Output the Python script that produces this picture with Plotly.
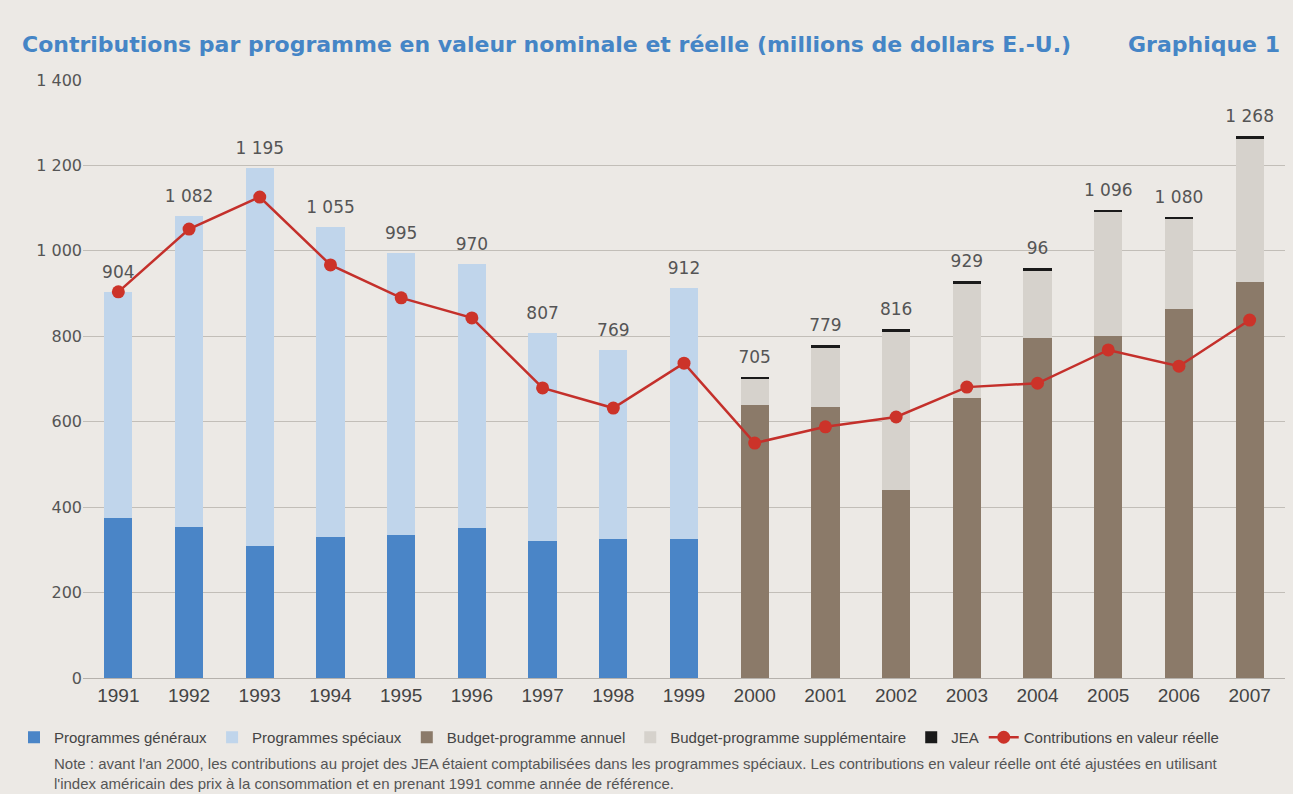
import plotly.graph_objects as go

years = [str(y) for y in range(1991, 2008)]
prog_generaux = [375, 354, 309, 330, 335, 351, 321, 325, 325] + [None] * 8
totals = [904, 1082, 1195, 1055, 995, 970, 807, 769, 912, 705, 779, 816, 929, 960, 1096, 1080, 1268]
total_labels = ["904", "1 082", "1 195", "1 055", "995", "970", "807", "769", "912",
                "705", "779", "816", "929", "96", "1 096", "1 080", "1 268"]
budget_annuel = [None] * 9 + [639, 635, 440, 656, 796, 800, 864, 927]
jea = [None] * 9 + [6, 6, 6, 6, 6, 6, 6, 6]
valeur_reelle = [904, 1051, 1126, 967, 890, 843, 679, 632, 737, 550, 588, 611, 681, 690, 768, 730, 838]

prog_speciaux = [totals[i] - prog_generaux[i] if prog_generaux[i] is not None else None for i in range(17)]
budget_supp = [totals[i] - budget_annuel[i] - jea[i] if budget_annuel[i] is not None else None for i in range(17)]

FONT = "Liberation Sans, Arial, sans-serif"
BG = "#ece9e5"

W, H = 1293, 794
l, r, t, b = 83, 8, 80, 116
pw, ph = W - l - r, H - t - b

fig = go.Figure()
bw = 0.4
fig.add_bar(x=years, y=prog_generaux, name="Programmes généraux", marker_color="#4a85c7", width=bw, marker_line_width=0)
fig.add_bar(x=years, y=prog_speciaux, name="Programmes spéciaux", marker_color="#c0d5eb", width=bw, marker_line_width=0)
fig.add_bar(x=years, y=budget_annuel, name="Budget-programme annuel", marker_color="#8b7a69", width=bw, marker_line_width=0)
fig.add_bar(x=years, y=budget_supp, name="Budget-programme supplémentaire", marker_color="#d6d2cc", width=bw, marker_line_width=0)
fig.add_bar(x=years, y=jea, name="JEA", marker_color="#1a1a1a", width=bw, marker_line_width=0)
fig.add_scatter(x=years, y=valeur_reelle, name="Contributions en valeur réelle", mode="lines+markers",
                line=dict(color="#c4302b", width=2.5), marker=dict(color="#cc3329", size=13))
fig.add_scatter(x=years, y=totals, text=total_labels, mode="markers+text", textposition="top center",
                marker=dict(size=14, color="rgba(0,0,0,0)"),
                textfont=dict(family="DejaVu Sans, sans-serif", size=17, color="#555"), showlegend=False,
                hoverinfo="skip")

fig.update_layout(
    width=W, height=H,
    paper_bgcolor=BG, plot_bgcolor=BG,
    barmode="stack",
    separators=", ",
    margin=dict(l=l, r=r, t=t, b=b),
    font=dict(family=FONT, color="#444"),
    showlegend=True,
    legend=dict(orientation="h", x=(14 - l) / pw, y=-(721 - (H - b)) / ph, yanchor="top", xanchor="left",
                font=dict(family=FONT, size=15, color="#444"), bgcolor="rgba(0,0,0,0)",
                traceorder="normal", itemwidth=30, tracegroupgap=0),
    xaxis=dict(showgrid=False, tickfont=dict(family=FONT, size=19, color="#444"),
               showline=True, linecolor="#b5b1ac", ticks="", range=[-0.5, 16.5]),
    yaxis=dict(range=[0, 1400], dtick=200, tickformat=",.0f", gridcolor="#c2beb8", gridwidth=1,
               tickfont=dict(family="DejaVu Sans, sans-serif", size=16, color="#555"),
               zeroline=False, ticks="", ticklen=0),
    annotations=[
        dict(text="<b>Contributions par programme en valeur nominale et réelle (millions de dollars E.-U.)</b>",
             x=(20 - l) / pw, y=(H - 45 - b) / ph, xref="paper", yref="paper", showarrow=False,
             xanchor="left", yanchor="middle",
             font=dict(family="DejaVu Sans, sans-serif", size=22, color="#4585c6")),
        dict(text="<b>Graphique 1</b>",
             x=(1282 - l) / pw, y=(H - 45 - b) / ph, xref="paper", yref="paper", showarrow=False,
             xanchor="right", yanchor="middle",
             font=dict(family="DejaVu Sans, sans-serif", size=22, color="#4585c6")),
        dict(text="Note : avant l'an 2000, les contributions au projet des JEA étaient comptabilisées dans les programmes spéciaux. Les contributions en valeur réelle ont été ajustées en utilisant<br>l'index américain des prix à la consommation et en prenant 1991 comme année de référence.",
             x=(52 - l) / pw, y=(H - 773 - b) / ph, xref="paper", yref="paper", showarrow=False,
             xanchor="left", yanchor="middle", align="left",
             font=dict(family=FONT, size=15, color="#555")),
    ],
)

fig.write_html("out.html", config={"displayModeBar": False},
               post_script="document.body.style.margin='0';document.body.style.overflow='hidden';")
